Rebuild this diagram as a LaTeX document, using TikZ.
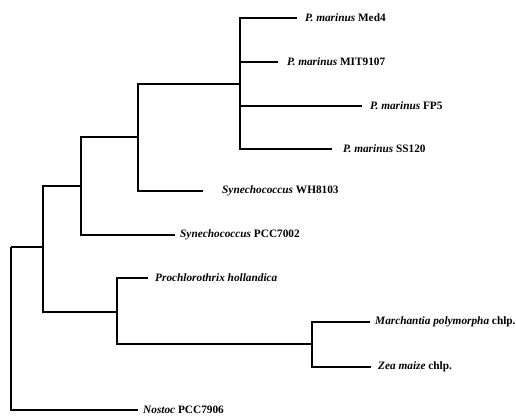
\documentclass[tikz,border=0pt]{standalone}
\usepackage{fontspec}
\setmainfont{Liberation Serif}
\usetikzlibrary{positioning}

\begin{document}
\begin{tikzpicture}[
    x=1pt, y=-1pt,
    node distance=6pt,
    every node/.style={font=\bfseries\fontsize{11.3}{13}\selectfont},
    taxon/.style={inner sep=0pt},
    branch/.style={line width=2.2pt, line join=miter}
]
\useasboundingbox (0,0) rectangle (516,415);

% --- Internal nodes (x = depth, y = where the parent joins) ---
\coordinate (root) at (11,247);
\coordinate (c1) at (43,247);
\coordinate (c2) at (81,186);
\coordinate (c3) at (138,137);
\coordinate (pro) at (240,84);
\coordinate (c5) at (117,312);
\coordinate (chl) at (312,344);

% --- Leaf ends ---
\coordinate (med4) at (297,18);
\coordinate (mit) at (278,62);
\coordinate (fp5) at (362,106);
\coordinate (ss120) at (332,149);
\coordinate (wh) at (203,191);
\coordinate (pcc) at (175,235);
\coordinate (phol) at (148,278);
\coordinate (mpol) at (370,322);
\coordinate (zea) at (371,367);
\coordinate (nos) at (138,410);

% --- Labels ---
\node[taxon, right=8pt of med4] (med4lbl) {\textit{P. marinus} Med4};
\node[taxon, right=9pt of mit] (mitlbl) {\textit{P. marinus} MIT9107};
\node[taxon, right=8pt of fp5] (fp5lbl) {\textit{P. marinus} FP5};
\node[taxon, right=11pt of ss120] (ss120lbl) {\textit{P. marinus} SS120};
\node[taxon, right=19pt of wh] (whlbl) {\textit{Synechococcus} WH8103};
\node[taxon, right=5pt of pcc] (pcclbl) {\textit{Synechococcus} PCC7002};
\node[taxon, right=7pt of phol] (phollbl) {\textit{Prochlorothrix hollandica}};
\node[taxon, right=5pt of mpol] (mpollbl) {\textit{Marchantia polymorpha} chlp.};
\node[taxon, right=7pt of zea] (zealbl) {\textit{Zea maize} chlp.};
\node[taxon, right=5pt of nos] (noslbl) {\textit{Nostoc} PCC7906};

% --- Branches ---
\draw[branch] (root) |- (c1);
\draw[branch] (root) |- (nos);
\draw[branch] (c1) |- (c2);
\draw[branch] (c1) |- (c5);
\draw[branch] (c2) |- (c3);
\draw[branch] (c2) |- (pcc);
\draw[branch] (c3) |- (pro);
\draw[branch] (c3) |- (wh);
\draw[branch] (pro) |- (med4);
\draw[branch] (pro) |- (mit);
\draw[branch] (pro) |- (fp5);
\draw[branch] (pro) |- (ss120);
\draw[branch] (c5) |- (phol);
\draw[branch] (c5) |- (chl);
\draw[branch] (chl) |- (mpol);
\draw[branch] (chl) |- (zea);

\end{tikzpicture}
\end{document}
